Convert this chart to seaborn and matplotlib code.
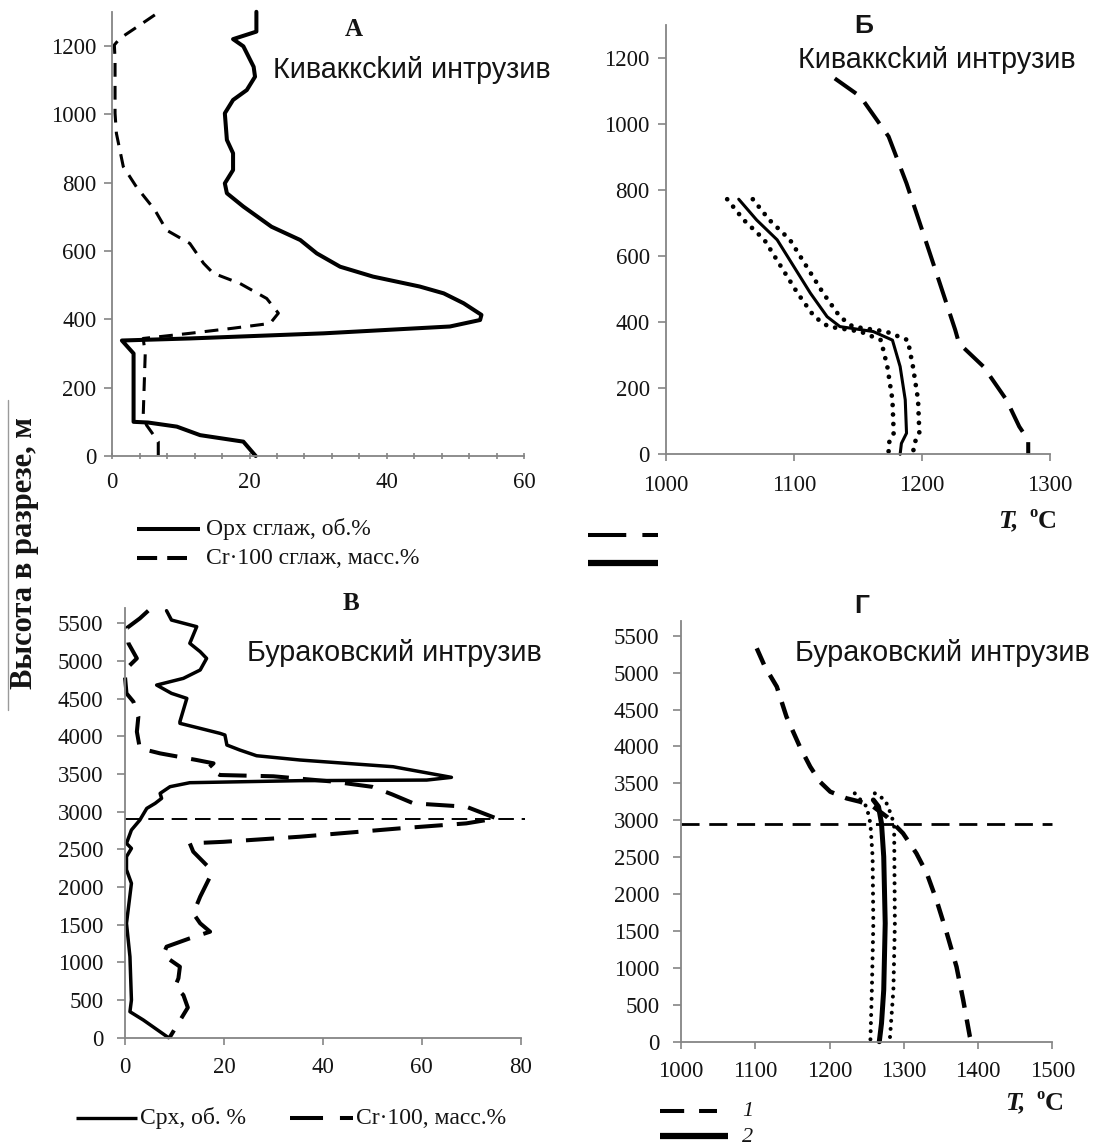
import matplotlib
matplotlib.use("Agg")
import matplotlib.pyplot as plt
import seaborn as sns
from matplotlib.ticker import MultipleLocator
from matplotlib.lines import Line2D

# ---------------- data ----------------
# Panel А – Кивакский интрузив
A_opx_x = [21.0, 21.0, 17.6, 19.1, 20.6, 20.8, 19.6, 17.6, 16.4, 16.7, 17.6, 17.6, 16.4, 16.7, 19.1,
           23.2, 27.4, 29.8, 33.2, 38.0, 44.8, 48.3, 51.2, 53.8, 53.6, 49.2, 30.8, 11.3, 1.4, 3.1,
           3.1, 5.2, 9.4, 12.8, 19.1, 20.9]
A_opx_h = [1300, 1242, 1220, 1199, 1139, 1110, 1071, 1042, 1003, 925, 886, 837, 798, 769, 730,
           671, 632, 593, 554, 525, 496, 476, 447, 413, 398, 379, 359, 344, 338, 300,
           100, 98, 86, 61, 42, 0]
A_cr_x = [6.2, 4.0, 1.1, 0.3, 0.4, 0.4, 0.6, 1.6, 3.5, 6.2, 7.9, 11.3, 13.3, 14.7, 18.6, 22.5,
          24.2, 23.0, 17.6, 11.3, 4.5, 4.8, 4.5, 5.0, 6.7, 6.7]
A_cr_h = [1291, 1261, 1222, 1203, 1160, 1003, 944, 847, 788, 720, 661, 622, 564, 535, 505, 461,
          418, 388, 374, 359, 344, 300, 115, 90, 42, 0]

# Panel Б – temperatures
B_dash_T = [1132, 1152, 1174, 1188, 1201, 1214, 1226, 1229, 1248, 1266, 1276, 1283, 1283]
B_dash_h = [1139, 1084, 963, 821, 670, 518, 377, 336, 266, 165, 84, 43, 0]
B_sol_T = [1057, 1071, 1087, 1100, 1113, 1126, 1136, 1162, 1177, 1183, 1187, 1188, 1184, 1183]
B_sol_h = [773, 710, 650, 569, 488, 417, 387, 372, 346, 266, 165, 64, 33, 0]
B_lo_T = [1048, 1061, 1077, 1090, 1103, 1116, 1127, 1152, 1168, 1173, 1177, 1178, 1174, 1174]
B_hi_T = [1068, 1081, 1097, 1110, 1123, 1136, 1146, 1172, 1189, 1193, 1197, 1198, 1194, 1193]

# Panel В – Бураковский интрузив
V_cpx_x = [8.4, 9.4, 14.5, 13.1, 15.2, 16.5, 15.2, 11.8, 6.4, 9.4, 12.5, 11.1, 11.1, 15.2, 19.2,
           20.2, 20.6, 23.2, 26.6, 35.4, 54.2, 66.0, 61.0, 35.4, 13.1, 9.1, 7.1, 7.4, 6.1, 4.4,
           3.4, 3.0, 1.3, 0.3, 1.3, 0.3, 0.3, 1.3, 0.3, 1.0, 1.3, 1.0, 3.7, 8.8]
V_cpx_h = [5668, 5544, 5456, 5235, 5124, 5035, 4881, 4770, 4681, 4571, 4504, 4195, 4173, 4106, 4040,
           4018, 3885, 3819, 3743, 3686, 3597, 3456, 3420, 3412, 3385, 3332, 3243, 3177, 3111, 3044,
           2934, 2889, 2757, 2580, 2513, 2403, 2230, 2049, 1518, 1075, 500, 345, 235, 0]
V_cr_x = [4.7, 3.0, 0.3, 0.7, 2.4, 0.0, 0.0, 0.3, 1.7, 2.7, 2.4, 3.0, 7.1, 14.5, 17.9, 16.8, 19.2,
          30.0, 42.0, 50.0, 54.0, 58.3, 69.0, 75.1, 69.0, 55.6, 35.4, 19.9, 13.1, 13.8, 16.8, 17.2,
          15.2, 13.8, 15.2, 17.2, 13.1, 8.4, 7.7, 11.1, 10.8, 10.1, 11.8, 12.7, 9.0]
V_cr_h = [5668, 5566, 5434, 5235, 5035, 4881, 4792, 4571, 4460, 4261, 4062, 3841, 3774, 3686, 3642,
          3575, 3487, 3470, 3400, 3330, 3230, 3111, 3066, 2911, 2845, 2779, 2668, 2600, 2580, 2469,
          2270, 2137, 1872, 1650, 1518, 1407, 1319, 1208, 1097, 942, 788, 677, 566, 400, 0]
V_level = 2900

# Panel Г – temperatures
G_dash_T = [1102, 1113, 1129, 1142, 1160, 1174, 1187, 1201, 1223, 1241, 1259, 1277, 1288, 1299,
            1317, 1331, 1344, 1358, 1371, 1380, 1389, 1391]
G_dash_h = [5330, 5081, 4810, 4404, 3997, 3726, 3523, 3387, 3297, 3252, 3184, 3049, 2936, 2823,
            2552, 2281, 1920, 1468, 1016, 565, 68, 0]
G_sol_T = [1259, 1266, 1270, 1273, 1275, 1273, 1270, 1267]
G_sol_h = [3275, 3184, 2958, 2507, 1603, 700, 248, 0]
G_lo_T = [1234, 1250, 1255, 1258, 1259, 1257, 1255]
G_lo_h = [3365, 3184, 2958, 2507, 1603, 700, 0]
G_hi_T = [1261, 1275, 1284, 1287, 1288, 1286, 1281]
G_hi_h = [3365, 3275, 3049, 2913, 1603, 700, 0]
G_level = 2950

# ---------------- figure ----------------
sns.set_style("ticks")
plt.rcParams["font.family"] = ["Liberation Serif", "DejaVu Serif"]
SANS = ["Liberation Sans", "DejaVu Sans"]
SERIF = ["Liberation Serif", "DejaVu Serif"]
GRAY = "#858585"
TXT = "#141414"
TICK_FS = 16.5

W, H = 1093, 1146
fig = plt.figure(figsize=(W / 100, H / 100), dpi=100)
fig.patch.set_facecolor("white")


def add_ax(l, r, b, t):
    return fig.add_axes([l / W, 1 - b / H, (r - l) / W, (b - t) / H])


def style(ax, xlim, ylim, xmaj, ymaj, xminor=None, xdir="out", ypad=6, xpad=9):
    ax.set_xlim(*xlim)
    ax.set_ylim(*ylim)
    ax.xaxis.set_major_locator(MultipleLocator(xmaj))
    ax.yaxis.set_major_locator(MultipleLocator(ymaj))
    if xminor:
        ax.xaxis.set_minor_locator(MultipleLocator(xminor))
    for s in ["top", "right"]:
        ax.spines[s].set_visible(False)
    for s in ["left", "bottom"]:
        ax.spines[s].set_color(GRAY)
        ax.spines[s].set_linewidth(1.3)
    ax.tick_params(axis="both", which="both", colors=GRAY, labelcolor=TXT,
                   labelsize=TICK_FS, width=1.2)
    ax.tick_params(axis="y", length=5.5, pad=ypad)
    ax.tick_params(axis="x", which="both", direction=xdir, length=5, pad=xpad)
    ax.set_xlabel("")
    ax.set_ylabel("")
    ax.patch.set_alpha(0)


def line(ax, x, y, lw, ls="-", cap="butt"):
    sns.lineplot(x=x, y=y, sort=False, estimator=None, ax=ax, color="black",
                 linewidth=lw, linestyle=ls, dash_capstyle=cap,
                 solid_capstyle="round", solid_joinstyle="round", clip_on=False)


DOT = (0, (0.01, 2.0))

# Panel А
axA = add_ax(112.3, 524, 456, 11.8)
line(axA, A_cr_x, A_cr_h, 2.2, (0, (4.5, 3)))
line(axA, A_opx_x, A_opx_h, 2.9)
style(axA, (0, 60), (0, 1300), 20, 200, xminor=4, xdir="inout", ypad=6)

# Panel Б
axB = add_ax(665.7, 1050, 454.3, 25.3)
line(axB, B_dash_T, B_dash_h, 2.9, (0, (6.5, 3)))
line(axB, B_lo_T, B_sol_h, 3.4, DOT, "round")
line(axB, B_hi_T, B_sol_h, 3.4, DOT, "round")
line(axB, B_sol_T, B_sol_h, 2.2)
style(axB, (1000, 1300), (0, 1300), 100, 200, ypad=6, xpad=10)

# Panel В
axV = add_ax(125, 520.7, 1037.7, 608.3)
axV.axhline(V_level, xmax=1.01, color="black", lw=1.4, linestyle=(0, (8, 4)), clip_on=False)
line(axV, V_cr_x, V_cr_h, 2.9, (0, (7, 3.5)))
line(axV, V_cpx_x, V_cpx_h, 2.5)
style(axV, (0, 80), (0, 5700), 20, 500, ypad=10)

# Panel Г
axG = add_ax(681, 1052.3, 1041.7, 621)
axG.axhline(G_level, color="black", lw=2.0, linestyle=(0, (6.5, 3.5)), clip_on=False)
line(axG, G_dash_T, G_dash_h, 3.2, (0, (4, 2.7)))
line(axG, G_lo_T, G_lo_h, 2.9, DOT, "round")
line(axG, G_hi_T, G_hi_h, 2.9, DOT, "round")
line(axG, G_sol_T, G_sol_h, 3.6)
style(axG, (1000, 1500), (0, 5700), 100, 500, ypad=10)


# ---------------- texts ----------------
def ftext(x, y, s, **kw):
    kw.setdefault("color", TXT)
    fig.text(x / W, 1 - y / H, s, **kw)


ftext(354, 30, "А", family=SERIF, fontsize=18, fontweight="bold", ha="center", va="center")
ftext(864, 26, "Б", family=SANS, fontsize=19, fontweight="bold", ha="center", va="center")
ftext(351, 604, "В", family=SERIF, fontsize=18, fontweight="bold", ha="center", va="center")
ftext(862, 606, "Г", family=SANS, fontsize=19, fontweight="bold", ha="center", va="center")

NAME_FS = 20.7
ftext(273, 70, "Кивакксkий интрузив", family=SANS, fontsize=NAME_FS, ha="left", va="center")
ftext(798, 60, "Кивакксkий интрузив", family=SANS, fontsize=NAME_FS, ha="left", va="center")
ftext(247, 653, "Бураковский интрузив", family=SANS, fontsize=NAME_FS, ha="left", va="center")
ftext(795, 653, "Бураковский интрузив", family=SANS, fontsize=NAME_FS, ha="left", va="center")

ftext(25, 553, "Высота в разрезе, м", family=SERIF, fontsize=22, fontweight="bold",
      rotation=90, ha="center", va="center")

for (xt, yt) in [(998, 521), (1005, 1103)]:
    ftext(xt, yt, "T,", family=SERIF, fontsize=19, fontweight="bold", style="italic",
          ha="left", va="center")
    ftext(xt + 31, yt - 8, "o", family=SERIF, fontsize=12, fontweight="bold",
          ha="left", va="center")
    ftext(xt + 40, yt, "C", family=SERIF, fontsize=19, fontweight="bold",
          ha="left", va="center")


# legends
def fline(x1, x2, y, lw, ls="-"):
    fig.add_artist(Line2D([x1 / W, x2 / W], [1 - y / H, 1 - y / H], color="black",
                          lw=lw, linestyle=ls, solid_capstyle="butt"))


LEG_FS = 17
fline(137, 200, 529, 2.9)
ftext(206, 529, "Opx сглаж, об.%", family=SERIF, fontsize=LEG_FS, ha="left", va="center")
fline(137, 187, 558, 2.9, (0, (5, 2.5)))
ftext(206, 558, "Cr·100 сглаж, масс.%", family=SERIF, fontsize=LEG_FS, ha="left", va="center")

fline(588, 658, 535, 2.9, (0, (9.5, 4)))
fline(588, 658, 563, 4.5)

fline(76, 137, 1118, 2.4)
ftext(140, 1118, "Cpx, об. %", family=SERIF, fontsize=LEG_FS, ha="left", va="center")
fline(290, 353, 1118, 2.9, (0, (8.2, 4.2)))
ftext(356, 1118, "Cr·100, масс.%", family=SERIF, fontsize=LEG_FS, ha="left", va="center")

fline(660, 717, 1111, 2.9, (0, (6, 3.7)))
ftext(742, 1111, "1", family=SERIF, fontsize=16, style="italic", ha="left", va="center")
fline(660, 728, 1136, 4.5)
ftext(742, 1138, "2", family=SERIF, fontsize=16, style="italic", ha="left", va="center")

# thin frame fragment at the left edge
fig.add_artist(Line2D([8 / W, 8 / W], [1 - 400 / H, 1 - 710 / H], color="#9a9a9a", lw=1.0))

fig.savefig("out.png", dpi=100, facecolor="white")
